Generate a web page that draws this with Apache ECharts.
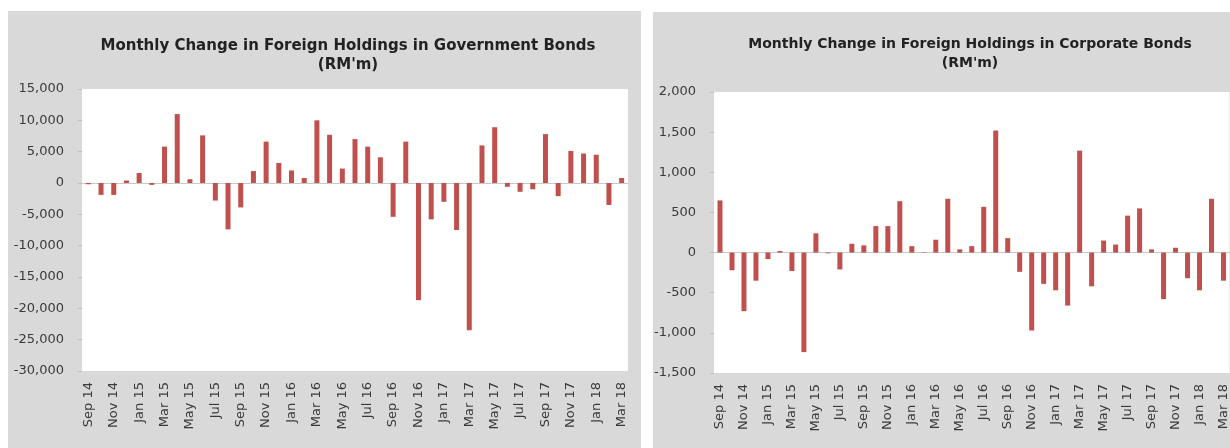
<!DOCTYPE html>
<html>
<head>
<meta charset="utf-8">
<script src="https://cdn.jsdelivr.net/npm/echarts@6/dist/echarts.min.js"></script>
<style>
html,body{margin:0;padding:0;background:#ffffff;}
#chart{width:1230px;height:448px;}
</style>
</head>
<body>
<div id="chart"></div>
<script>
var months = ["Sep 14","Oct 14","Nov 14","Dec 14","Jan 15","Feb 15","Mar 15","Apr 15","May 15","Jun 15","Jul 15","Aug 15",
"Sep 15","Oct 15","Nov 15","Dec 15","Jan 16","Feb 16","Mar 16","Apr 16","May 16","Jun 16","Jul 16","Aug 16",
"Sep 16","Oct 16","Nov 16","Dec 16","Jan 17","Feb 17","Mar 17","Apr 17","May 17","Jun 17","Jul 17","Aug 17",
"Sep 17","Oct 17","Nov 17","Dec 17","Jan 18","Feb 18","Mar 18"];

var govtBonds = [-200,-1900,-1900,400,1600,-300,5800,11000,600,7600,-2800,-7400,
-3900,1900,6600,3200,2000,800,10000,7700,2300,7000,5800,4100,
-5400,6600,-18700,-5800,-3000,-7500,-23500,6000,8900,-600,-1400,-1000,
7800,-2100,5100,4700,4500,-3500,800];

var corpBonds = [650,-220,-730,-350,-80,20,-230,-1240,240,-10,-210,110,
90,330,330,640,80,-5,160,670,40,80,570,1520,
180,-240,-970,-390,-470,-660,1270,-420,150,100,460,550,
40,-580,60,-320,-470,670,-350];

var govtTitle = ["Monthly Change in Foreign Holdings in Government Bonds", "(RM'm)"];
var corpTitle = ["Monthly Change in Foreign Holdings in Corporate Bonds", "(RM'm)"];

var FONT = '"DejaVu Sans", Verdana, sans-serif';
var TXT = '#3a3a3a';
var BAR = '#c0504d';

function fmt(v){ return Number(v).toLocaleString('en-US'); }

function xAx(idx){
  return {
    type:'category', gridIndex: idx, data: months,
    axisLine:{show:true, onZero:true, lineStyle:{color:'#c8c8c8', width:1}},
    axisTick:{show:false},
    axisLabel:{interval:1, rotate:90, color:TXT, fontFamily:FONT, fontSize:13, margin:11}
  };
}
function yAx(idx, mn, mx, iv){
  return {
    type:'value', gridIndex: idx, min:mn, max:mx, interval:iv,
    axisLine:{show:false},
    axisTick:{show:true, length:4, lineStyle:{color:'#c0c0c0'}},
    splitLine:{show:false},
    axisLabel:{color:TXT, fontFamily:FONT, fontSize:13, margin:18, formatter:fmt}
  };
}
function titleText(lines, cx, y1, y2, size){
  return [
    {type:'text', z:10, x:cx, y:y1, style:{text:lines[0], fill:'#222', font:'bold '+size+'px '+FONT, align:'center', verticalAlign:'middle'}},
    {type:'text', z:10, x:cx, y:y2, style:{text:lines[1], fill:'#222', font:'bold '+size+'px '+FONT, align:'center', verticalAlign:'middle'}}
  ];
}

var chart = echarts.init(document.getElementById('chart'), null, {renderer:'canvas'});
chart.setOption({
  animation:false,
  backgroundColor:'#ffffff',
  graphic:{elements:[
    {type:'rect', z:-10, shape:{x:8, y:11, width:633, height:440}, style:{fill:'#d9d9d9'}},
    {type:'rect', z:-10, shape:{x:653, y:12, width:580, height:440}, style:{fill:'#d9d9d9'}}
  ].concat(titleText(govtTitle, 348, 46, 65, 15)).concat(titleText(corpTitle, 970, 44, 63, 14))},
  grid:[
    {left:82, top:89, width:546, height:282, show:true, backgroundColor:'#ffffff', borderWidth:0, containLabel:false},
    {left:714, top:92, width:516, height:281, show:true, backgroundColor:'#ffffff', borderWidth:0, containLabel:false}
  ],
  xAxis:[xAx(0), xAx(1)],
  yAxis:[yAx(0,-30000,15000,5000), yAx(1,-1500,2000,500)],
  series:[
    {type:'bar', xAxisIndex:0, yAxisIndex:0, data:govtBonds, barWidth:5, itemStyle:{color:BAR}},
    {type:'bar', xAxisIndex:1, yAxisIndex:1, data:corpBonds, barWidth:5, itemStyle:{color:BAR}}
  ]
});
</script>
</body>
</html>
